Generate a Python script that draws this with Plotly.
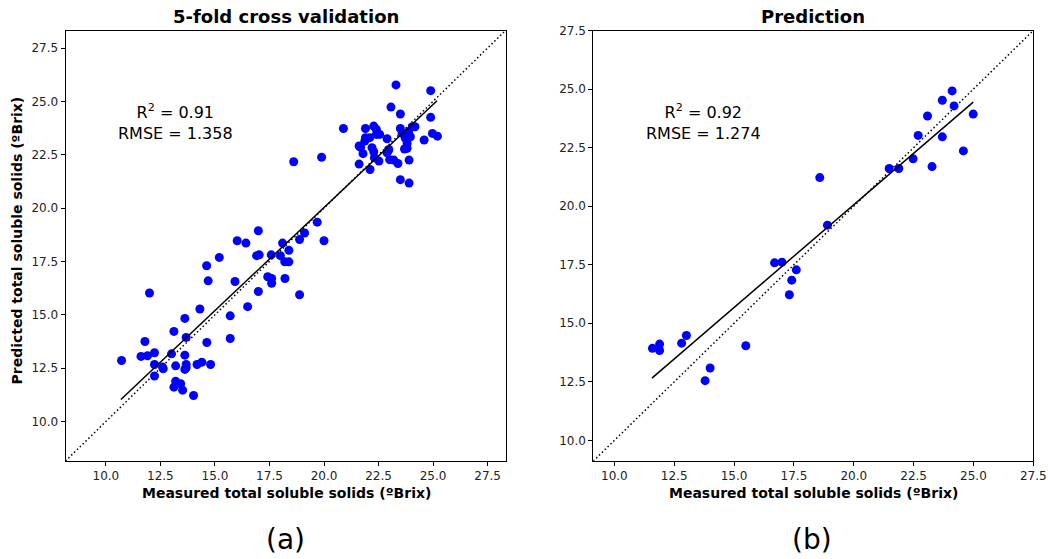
import numpy as np
import plotly.graph_objects as go

# ---------------- data ----------------
cv_measured = [23.30, 24.89, 23.07, 23.50, 20.89, 21.90, 22.28, 22.40, 22.40, 22.55,
               23.50, 24.05, 24.89, 24.97, 25.20, 24.59, 21.90, 21.87, 21.61, 21.79,
               22.20, 22.28, 22.31, 22.52, 21.61, 22.11, 22.89, 22.97, 22.89, 23.01,
               23.20, 23.39, 23.50, 23.90, 23.90, 23.69, 23.81, 23.81, 23.73, 23.96,
               23.58, 23.88, 24.17, 22.95, 21.68, 22.10,
               18.61, 19.89, 19.69, 20.00, 19.11, 18.88, 16.99, 16.02, 16.42, 18.10,
               18.39, 18.00, 18.20, 18.39, 17.58, 16.91, 17.03, 15.20, 14.62, 14.69,
               15.92, 17.42, 17.60, 17.60, 18.21, 16.99, 18.88, 16.50, 15.70, 15.70,
               14.31, 13.62, 13.12, 13.68, 12.00, 11.79, 10.72, 11.61, 11.91, 12.23,
               13.01, 13.62, 14.63, 12.23, 12.63, 13.20, 13.68, 13.62, 14.18, 14.40,
               14.80, 12.23, 13.20, 13.43, 13.12, 13.52, 14.02, 12.60, 13.68]
cv_predicted = [25.77, 25.50, 24.73, 24.41, 23.73, 23.73, 23.84, 23.69, 23.45, 23.45,
                23.73, 23.81, 24.25, 23.50, 23.37, 23.19, 23.30, 23.14, 22.91, 22.55,
                22.83, 22.64, 22.36, 22.20, 22.06, 21.81, 23.25, 22.75, 22.59, 22.27,
                22.25, 22.09, 21.33, 21.17, 22.25, 22.77, 22.80, 23.03, 23.27, 23.34,
                23.50, 23.58, 23.81, 22.70, 22.85, 23.30,
                22.17, 22.38, 19.34, 18.47, 18.83, 18.53, 18.94, 18.47, 18.36, 18.36,
                18.02, 17.77, 17.48, 17.48, 17.81, 17.77, 17.81, 17.69, 17.30, 16.59,
                16.56, 16.78, 16.70, 16.48, 16.70, 16.09, 15.94, 15.38, 14.95, 13.89,
                15.27, 14.83, 14.22, 13.94, 16.02, 13.75, 12.86, 13.05, 13.08, 13.22,
                13.17, 13.11, 13.70, 12.67, 12.47, 12.61, 12.67, 12.44, 12.67, 12.78,
                12.67, 12.13, 11.89, 11.77, 11.61, 11.47, 11.22, 12.55, 12.52]

pred_measured = [24.11, 23.70, 24.19, 23.08, 24.99, 22.69, 23.70, 24.58, 22.48, 21.48,
                 21.88, 23.27, 18.58, 18.90, 16.69, 17.00, 17.60, 17.41, 17.31, 15.49,
                 13.01, 12.81, 11.89, 11.89, 11.59, 14.00, 13.79]
pred_predicted = [24.92, 24.52, 24.28, 23.85, 23.93, 23.02, 22.96, 22.36, 22.02, 21.61,
                  21.61, 21.69, 21.22, 19.19, 17.58, 17.61, 17.28, 16.84, 16.22, 14.04,
                  14.48, 14.15, 14.11, 13.84, 13.93, 13.09, 12.55]

cv_fit_x = [10.69, 25.18]
cv_fit_y = [11.03, 25.03]
pred_fit_x = [11.57, 24.99]
pred_fit_y = [12.66, 24.44]

cv_range = [8.15, 28.32]
pred_range = [9.12, 27.50]

tick_vals = [10.0, 12.5, 15.0, 17.5, 20.0, 22.5, 25.0, 27.5]
tick_text = ["10.0", "12.5", "15.0", "17.5", "20.0", "22.5", "25.0", "27.5"]

cv_stats = "R<sup>2</sup> = 0.91<br>RMSE = 1.358"
pred_stats = "R<sup>2</sup> = 0.92<br>RMSE = 1.274"
titles = ["5-fold cross validation", "Prediction"]
xlabel = "Measured total soluble solids (ºBrix)"
ylabel = "Predicted total soluble solids (ºBrix)"
panel_labels = ["(a)", "(b)"]

# ---------------- layout helpers ----------------
W, H = 1048, 559
FONT = "DejaVu Sans"


def fx(px):
    return px / W


def fy(py):
    return 1 - py / H


fig = go.Figure()

dotted = dict(color="black", width=1.5, dash="1.5px,2.5px")

# left panel
fig.add_trace(go.Scatter(x=cv_range, y=cv_range, mode="lines", line=dotted,
                         xaxis="x", yaxis="y", showlegend=False))
fig.add_trace(go.Scatter(x=cv_measured, y=cv_predicted, mode="markers",
                         marker=dict(color="#0000ff", size=9),
                         xaxis="x", yaxis="y", showlegend=False))
fig.add_trace(go.Scatter(x=cv_fit_x, y=cv_fit_y, mode="lines",
                         line=dict(color="black", width=1.5),
                         xaxis="x", yaxis="y", showlegend=False))

# right panel
fig.add_trace(go.Scatter(x=pred_range, y=pred_range, mode="lines", line=dotted,
                         xaxis="x2", yaxis="y2", showlegend=False))
fig.add_trace(go.Scatter(x=pred_measured, y=pred_predicted, mode="markers",
                         marker=dict(color="#0000ff", size=9),
                         xaxis="x2", yaxis="y2", showlegend=False))
fig.add_trace(go.Scatter(x=pred_fit_x, y=pred_fit_y, mode="lines",
                         line=dict(color="black", width=1.5),
                         xaxis="x2", yaxis="y2", showlegend=False))

axis_common = dict(
    showgrid=False, zeroline=False, showline=True, mirror=True,
    linecolor="black", linewidth=1, ticks="outside", ticklen=4,
    tickcolor="black", tickwidth=1,
    tickvals=tick_vals, ticktext=tick_text,
    tickfont=dict(family=FONT, size=12, color="#222222"),
)

ytop, ybot = 30.5, 461
fig.update_layout(
    width=W, height=H,
    margin=dict(l=0, r=0, t=0, b=0, autoexpand=False),
    paper_bgcolor="white", plot_bgcolor="white",
    font=dict(family=FONT, color="black"),
    xaxis=dict(domain=[fx(65.5), fx(505.5)], range=cv_range, anchor="y", **axis_common),
    yaxis=dict(domain=[fy(ybot), fy(ytop)], range=cv_range, anchor="x", **axis_common),
    xaxis2=dict(domain=[fx(593.3), fx(1033.3)], range=pred_range, anchor="y2", **axis_common),
    yaxis2=dict(domain=[fy(ybot), fy(ytop)], range=pred_range, anchor="x2", **axis_common),
)

ann = []
# titles
for cx, t in zip([285.5, 813.3], titles):
    ann.append(dict(x=fx(cx), y=fy(17), xref="paper", yref="paper", text="<b>%s</b>" % t,
                    showarrow=False, xanchor="center", yanchor="middle",
                    font=dict(family=FONT, size=18, color="black")))
# x labels
for cx in [286.5, 813.3]:
    ann.append(dict(x=fx(cx), y=fy(493), xref="paper", yref="paper", text="<b>%s</b>" % xlabel,
                    showarrow=False, xanchor="center", yanchor="middle",
                    font=dict(family=FONT, size=14, color="black")))
# y label (left only)
ann.append(dict(x=fx(16), y=fy(240.5), xref="paper", yref="paper", text="<b>%s</b>" % ylabel,
                showarrow=False, xanchor="center", yanchor="middle", textangle=-90,
                font=dict(family=FONT, size=14, color="black")))
# stats
ann.append(dict(x=fx(175), y=fy(122), xref="paper", yref="paper", text=cv_stats,
                showarrow=False, xanchor="center", yanchor="middle", align="center",
                font=dict(family=FONT, size=16, color="black")))
ann.append(dict(x=fx(703), y=fy(122), xref="paper", yref="paper", text=pred_stats,
                showarrow=False, xanchor="center", yanchor="middle", align="center",
                font=dict(family=FONT, size=16, color="black")))
# panel labels
for cx, t in zip([285, 812], panel_labels):
    ann.append(dict(x=fx(cx), y=fy(539), xref="paper", yref="paper", text=t,
                    showarrow=False, xanchor="center", yanchor="middle",
                    font=dict(family=FONT, size=28, color="black")))

fig.update_layout(annotations=ann)
fig.write_html("out.html")
